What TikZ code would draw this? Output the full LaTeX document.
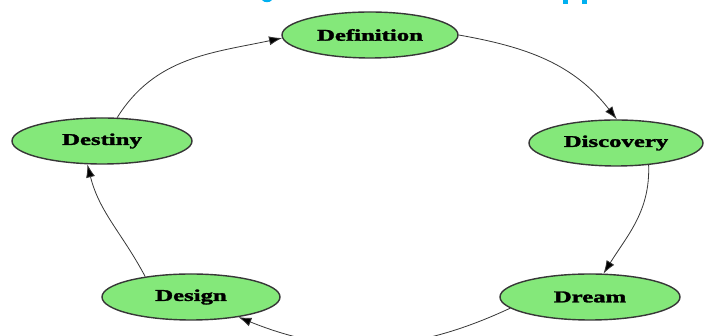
\documentclass[tikz,border=0pt]{standalone}
\usepackage{fontspec}
\setmainfont{Liberation Serif}
\newfontfamily\nodefont[BoldFeatures={FakeBold=1.6}]{Liberation Serif}
\usetikzlibrary{shapes.geometric,arrows.meta}
\definecolor{nodegreen}{RGB}{132,232,122}
\definecolor{edgegray}{RGB}{55,55,55}
\definecolor{titlecyan}{RGB}{0,176,240}
\tikzset{
  stage/.style={ellipse, draw=edgegray, line width=1.4pt, fill=nodegreen,
    minimum width=178pt, minimum height=46pt, inner sep=0pt,
    font=\nodefont\fontsize{16.5}{16.5}\selectfont\bfseries},
  flow/.style={draw=edgegray, line width=0.8pt, -{Latex[length=13pt,width=9pt,fill=black]}}
}
\newcommand{\wide}[1]{\scalebox{1.5}[1]{#1}}
\begin{document}
\begin{tikzpicture}[x=1pt,y=1pt]
\useasboundingbox (0,0) rectangle (704,336);
% cut-off title descenders
\fill[titlecyan] (262,336) .. controls (264,333) and (270,333) .. (272,336) -- cycle;
\fill[titlecyan] (563,336) rectangle (568,332);
\fill[titlecyan] (582,336) rectangle (587,332);
% nodes
\node[stage, minimum width=176pt] (definition) at (370,301) {\wide{Definition}};
\node[stage, minimum width=180pt] (destiny) at (102,195) {\wide{Destiny}};
\node[stage, minimum width=174pt] (discovery) at (616,193) {\wide{Discovery}};
\node[stage, minimum width=178pt] (design) at (191,39) {\wide{Design}};
\node[stage, minimum width=180pt] (dream) at (590,39) {\wide{Dream}};
% connectors
\draw[flow] (destiny.57) to[out=58,in=192] (definition.182);
\draw[flow] (definition.0) to[out=-10,in=128] (discovery.88);
\draw[flow] (discovery.-34) to[out=-88,in=58] (dream.60);
\draw[flow] (dream.188) to[out=-155,in=-22] (design.-23);
\draw[flow] (design.156) to[out=118,in=-76] (destiny.238);
\end{tikzpicture}
\end{document}
